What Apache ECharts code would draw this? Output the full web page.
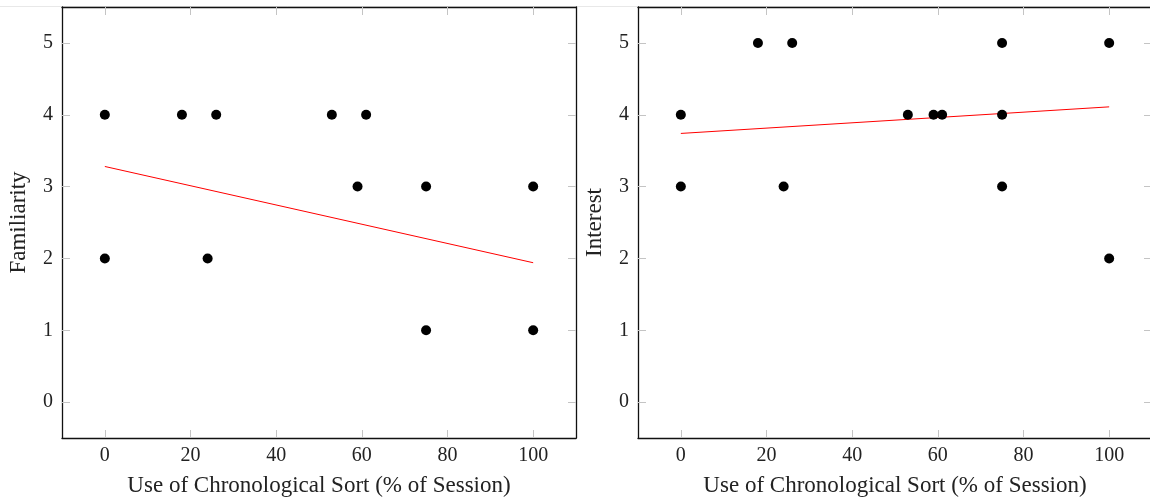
<!DOCTYPE html>
<html>
<head>
<meta charset="utf-8">
<script src="https://cdn.jsdelivr.net/npm/echarts@6/dist/echarts.min.js"></script>
<style>
html,body{margin:0;padding:0;background:#fff;}
#chart{width:1150px;height:497px;}
</style>
</head>
<body>
<div id="chart"></div>
<script>
// Data
const familiarityX = [0, 0, 18, 24, 26, 53, 59, 61, 75, 75, 100, 100];
const familiarityY = [4, 2, 4, 2, 4, 4, 3, 4, 3, 1, 3, 1];
const familiarityFitX = [0, 100];
const familiarityFitY = [3.28, 1.94];

const interestX = [0, 0, 18, 24, 26, 53, 59, 61, 75, 75, 75, 100, 100];
const interestY = [4, 3, 5, 3, 5, 4, 4, 4, 5, 4, 3, 5, 2];
const interestFitX = [0, 100];
const interestFitY = [3.74, 4.11];

const xTicks = [0, 20, 40, 60, 80, 100];
const yTicks = [0, 1, 2, 3, 4, 5];

const xAxisTitle = 'Use of Chronological Sort (% of Session)';
const yTitles = ['Familiarity', 'Interest'];

const FONT = 'Liberation Serif';
const zip = (a, b) => a.map((v, i) => [v, b[i]]);

const chart = echarts.init(document.getElementById('chart'), null, {renderer: 'canvas'});

const grids = [
  {left: 62, top: 7, width: 514, height: 431, containLabel: false, outerBoundsMode: 'none'},
  {left: 638, top: 7, width: 514, height: 431, containLabel: false, outerBoundsMode: 'none'}
];

const axisLineStyle = {color: '#111', width: 1.3};
const tick = vals => ({show: true, inside: true, length: 8, customValues: vals, lineStyle: {color: '#c4c4c4', width: 1}});

const xAxes = [];
const yAxes = [];
[0, 1].forEach(g => {
  xAxes.push({
    gridIndex: g, type: 'value', position: 'bottom', min: -10, max: 110, splitNumber: 6,
    axisLine: {show: true, onZero: false, lineStyle: axisLineStyle},
    axisTick: tick(xTicks), splitLine: {show: false},
    axisLabel: {color: '#222', fontFamily: FONT, fontSize: 20, margin: 8, customValues: xTicks},
    name: xAxisTitle, nameLocation: 'middle', nameGap: 36,
    nameTextStyle: {color: '#222', fontFamily: FONT, fontSize: 23}
  });
  xAxes.push({
    gridIndex: g, type: 'value', position: 'top', min: -10, max: 110, splitNumber: 6,
    axisLine: {show: true, onZero: false, lineStyle: axisLineStyle},
    axisTick: tick(xTicks), splitLine: {show: false}, axisLabel: {show: false}
  });
  yAxes.push({
    gridIndex: g, type: 'value', position: 'left', min: -0.5, max: 5.5, splitNumber: 6,
    axisLine: {show: true, onZero: false, lineStyle: axisLineStyle},
    axisTick: tick(yTicks), splitLine: {show: false},
    axisLabel: {color: '#222', fontFamily: FONT, fontSize: 20, margin: 9, customValues: yTicks},
    name: yTitles[g], nameLocation: 'middle', nameGap: 32,
    nameTextStyle: {color: '#222', fontFamily: FONT, fontSize: 23}
  });
  yAxes.push({
    gridIndex: g, type: 'value', position: 'right', min: -0.5, max: 5.5, splitNumber: 6,
    axisLine: {show: true, onZero: false, lineStyle: axisLineStyle},
    axisTick: tick(yTicks), splitLine: {show: false}, axisLabel: {show: false}
  });
});

const scatterStyle = {type: 'scatter', symbol: 'circle', symbolSize: 10, itemStyle: {color: '#000', opacity: 1}, z: 3};
const fitStyle = {type: 'line', showSymbol: false, symbol: 'none', lineStyle: {color: '#ff0000', width: 1}, z: 2, silent: true};

chart.setOption({
  animation: false,
  backgroundColor: '#fff',
  graphic: [{type: 'line', shape: {x1: 0, y1: 6.5, x2: 1150, y2: 6.5}, style: {stroke: '#e8e8e8', lineWidth: 1}, z: -1}],
  grid: grids,
  xAxis: xAxes,
  yAxis: yAxes,
  series: [
    Object.assign({xAxisIndex: 0, yAxisIndex: 0, data: zip(familiarityFitX, familiarityFitY)}, fitStyle),
    Object.assign({xAxisIndex: 0, yAxisIndex: 0, data: zip(familiarityX, familiarityY)}, scatterStyle),
    Object.assign({xAxisIndex: 2, yAxisIndex: 2, data: zip(interestFitX, interestFitY)}, fitStyle),
    Object.assign({xAxisIndex: 2, yAxisIndex: 2, data: zip(interestX, interestY)}, scatterStyle)
  ]
});
</script>
</body>
</html>
